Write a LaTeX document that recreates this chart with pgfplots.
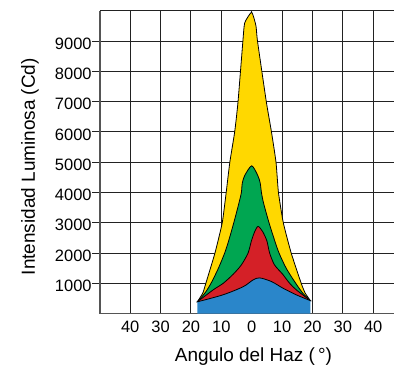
\documentclass[border=0pt]{standalone}
\usepackage{pgfplots}
\pgfplotsset{compat=1.18}
\usepackage{pgfplotstable}
\usepackage{fontspec}
\setmainfont{Liberation Sans}
\definecolor{yel}{HTML}{FFD800}
\definecolor{grn}{HTML}{00A651}
\definecolor{rd}{HTML}{D42027}
\definecolor{blu}{HTML}{2A86CA}
\definecolor{gridc}{HTML}{222222}
\definecolor{axisc}{HTML}{555555}

\pgfplotstableread{
x y
-17.9 390
-16.1 680
-15.1 1000
-12.1 2000
-9.7 3000
-8.4 4000
-7.2 5000
-5.6 6000
-4.5 7000
-2.9 9000
-2.3 9600
0 9950
1.4 9500
1.9 9000
4.8 7000
6.5 6000
8.0 5000
8.8 4000
10.4 3000
13.0 2000
16.3 1000
17.6 680
19.3 430
}\yellowdata

\pgfplotstableread{
x y
-17.9 390
-15.4 680
-13.4 1000
-11.0 1490
-8.9 2000
-7.6 2400
-5.9 3000
-4.2 3650
-3.4 4000
-3.1 4310
-2.3 4560
0 4880
2.0 4560
2.8 4310
3.2 4000
3.9 3650
5.7 3000
7.6 2400
9.0 2000
11.4 1490
14.5 1000
16.8 680
19.3 430
}\greendata

\pgfplotstableread{
x y
-17.9 390
-12.7 784
-9.4 1000
-6.1 1300
-3.4 1610
-1.2 2000
-0.1 2400
1.0 2710
2.1 2880
3.6 2710
5.0 2400
5.9 2000
7.5 1610
10.2 1300
12.5 1000
14.7 784
19.3 430
}\reddata

\pgfplotstableread{
x y
-17.9 390
-9.5 620
-2.8 890
0.4 1110
2.6 1180
6.5 1060
10.3 840
14.7 620
19.3 430
}\bluedata

\begin{document}
\begin{tikzpicture}
\begin{axis}[
  scale only axis, width=295pt, height=303.6pt,
  xmin=-50, xmax=46.9, ymin=0, ymax=10000,
  axis x line*=bottom, axis y line*=left,
  axis line style={line width=1.6pt, color=axisc},
  xtick={-40,-30,...,40}, xticklabels={40,30,20,10,0,10,20,30,40},
  ytick={1000,2000,...,9000},
  yticklabels={1000,2000,3000,4000,5000,6000,7000,8000,9000},
  scaled y ticks=false, scaled x ticks=false,
  extra y ticks={10000}, extra y tick labels={},
  extra y tick style={tick style={draw=none}, grid=major},
  grid=major, grid style={line width=0.9pt, color=gridc},
  tick align=outside, major tick length=8pt,
  xtick style={draw=none},
  ytick style={line width=0.9pt, color=gridc},
  tick label style={font=\fontsize{16.5}{18}\selectfont},
  yticklabel style={anchor=east, inner sep=0pt, xshift=0pt, yshift=-2.5pt},
  xticklabel style={anchor=north, inner sep=0pt, yshift=1pt},
  label style={font=\fontsize{19}{22}\selectfont},
  ylabel={Intensidad Luminosa (Cd)},
  ylabel style={at={(axis description cs:-0.237,0.485)}, anchor=center},
  xlabel={Angulo del Haz (\,°)},
  xlabel style={at={(axis description cs:0.522,-0.157)}, anchor=base},
  clip=true,
]
\addplot[fill=yel, draw=black, line width=0.8pt, smooth, tension=0.3] table {\yellowdata} -- cycle;
\addplot[fill=grn, draw=black, line width=0.8pt, smooth, tension=0.45] table {\greendata} -- cycle;
\addplot[fill=rd, draw=black, line width=0.8pt, smooth, tension=0.45] table {\reddata} -- cycle;
\addplot[fill=blu, draw=none, smooth, tension=0.5] table {\bluedata} \closedcycle;
\addplot[draw=black, line width=0.8pt, smooth, tension=0.5] table {\bluedata};
\end{axis}
\path ([xshift=-100pt,yshift=-56.7pt]current axis.south west) rectangle ([yshift=10.7pt]current axis.north east);
\end{tikzpicture}
\end{document}
